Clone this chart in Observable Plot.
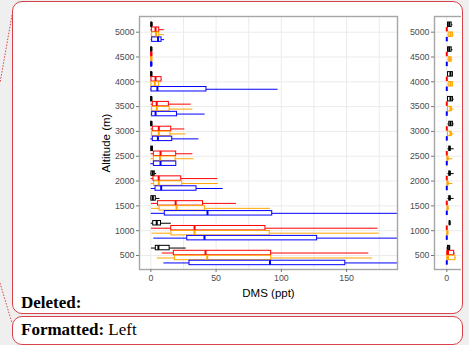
<!DOCTYPE html>
<html><head><meta charset="utf-8">
<script src="https://cdn.jsdelivr.net/npm/d3@7"></script>
<script src="https://cdn.jsdelivr.net/npm/@observablehq/plot@0.6"></script>
<style>
html,body{margin:0;padding:0;background:#efefef;}
#page{position:relative;width:469px;height:345px;overflow:hidden;background:#efefef;}
.balloon{position:absolute;left:12px;width:451px;border:1px solid #d8414a;border-radius:10px;background:#fff;box-sizing:border-box;}
#b1{top:1px;height:313px;}
#b2{top:316px;height:29px;}
.note{position:absolute;left:21px;font:17px/17px "Liberation Serif","Times New Roman",serif;color:#000;white-space:nowrap;}
#c1{position:absolute;left:0;top:0;}
#c2{position:absolute;left:394px;top:0;width:67px;height:300px;overflow:hidden;}
#c2 svg, #c1 svg{max-width:none !important;}
#deco{position:absolute;left:0;top:0;}
</style></head>
<body><div id="page">
<svg id="deco" width="20" height="345"><line x1="12" y1="15" x2="0" y2="83" stroke="#d8414a" stroke-dasharray="1.5,1.5"/><line x1="0" y1="283" x2="12" y2="323" stroke="#d8414a" stroke-dasharray="1.5,1.5"/></svg>
<div class="balloon" id="b1"></div>
<div class="balloon" id="b2"></div>
<div class="note" style="top:294px;"><b>Deleted:</b></div>
<div class="note" style="top:321px;"><b>Formatted:</b> Left</div>
<div id="c1"></div>
<div id="c2"></div>
</div>
<script>
// ---- data ----
const altitudes = [500, 1000, 1500, 2000, 2500, 3000, 3500, 4000, 4500, 5000];
const seriesNames = ["S1", "S2", "S3", "S4"];
const seriesColors = ["black", "red", "orange", "blue"];
const yTicks = [500, 1000, 1500, 2000, 2500, 3000, 3500, 4000, 4500, 5000];
const xTicks = [0, 50, 100, 150];
const xGrid = [0, 25, 50, 75, 100, 125, 150, 175];
const xTicks2 = [0];
const xGrid2 = [0, 2.5, 5, 7.5, 10];

// panel 1: [min, q1, median, q3, max] per altitude (500 -> 5000)
const s1Stats = [[0.5,3.8,5.8,14.4,27.1],[0.3,1.8,4.5,7.8,15.7],[0,0.4,1.5,3.8,7],[0,0.5,1.5,3,4.5],[0,0.3,0.8,1.6,1.8],[0,0.2,0.5,1,1.3],[0,0.2,0.5,0.9,1.2],[0,0.2,0.5,0.9,1.2],[0,0.2,0.5,0.8,1],[0,0.3,0.6,1,1.5]];
const s2Stats = [[8.7,17.6,41.9,92.2,167],[0.5,15.6,33.5,87.8,174],[0.5,5.5,19,40,65.6],[0.3,2,6,23.3,51.3],[0.3,2.3,7.4,19.4,32.2],[0.3,1.5,6.1,15.6,26],[0.3,1.5,4.5,13.8,30.9],[0.2,0.5,3.6,8.2,8.6],[0,0.2,0.5,0.8,1],[0.2,0.8,3.6,6.4,10.3]];
const s3Stats = [[4.9,18.4,43.2,92.2,170],[1,15.8,33.5,91.1,175],[0.5,6.7,19.7,41.4,91.6],[0.3,2.5,6.1,24,51.8],[0.3,2.3,7,19,33],[0.3,1,6.1,15,27],[0.3,1,4.5,14.4,32.2],[0.2,0.5,3,6.2,6.8],[0,0.2,0.5,0.8,1],[0.2,1,4,6.4,10.6]];
const s4Stats = [[10,29.6,91.3,149,260],[2.3,27.9,41.1,127.4,240],[0.3,10.7,43.4,93,230],[0.3,3.6,7.9,35,55.4],[0,2.3,7.4,19.5,19.5],[0,1.5,5.4,16.4,36.8],[0.3,1,3.6,20,41.6],[0,0.5,5,42.6,97.5],[0,0.2,0.5,0.8,1],[0.3,1,5.5,8.2,10.5]];

// panel 2 (second facet, mostly hidden)
const p2s1Stats = [[0,0.05,0.1,0.12,0.15],[0.1,0.12,0.12,0.13,0.14],[0.05,0.1,0.12,0.15,0.3],[0.05,0.1,0.12,0.15,0.3],[0.05,0.1,0.12,0.15,0.3],[0.05,0.1,0.15,0.25,0.3],[0.05,0.05,0.15,0.25,0.3],[0.05,0.05,0.15,0.25,0.25],[0.03,0.05,0.1,0.2,0.25],[0.03,0.05,0.1,0.2,0.25]];
const p2s2Stats = [[0,0.02,0.05,0.3,0.35],[0,0,0,0,0],[0,0,0,0,0],[0,0,0,0,0],[0,0,0,0,0],[0,0,0,0,0],[0,0,0,0,0],[0,0,0,0,0],[0,0,0,0,0],[0,0,0,0,0]];
const p2s3Stats = [[0,0.02,0.05,0.35,0.4],[0.02,0.02,0.03,0.03,0.03],[0.02,0.03,0.04,0.05,0.1],[0.02,0.03,0.04,0.05,0.25],[0.02,0.03,0.04,0.05,0.25],[0.05,0.05,0.15,0.2,0.3],[0.05,0.05,0.15,0.2,0.3],[0.05,0.08,0.15,0.25,0.25],[0.05,0.08,0.12,0.2,0.25],[0.05,0.08,0.15,0.25,0.3]];
const p2s4Stats = [[0,0,0,0,0],[0,0,0,0,0],[0,0,0,0,0],[0,0,0,0,0],[0,0,0,0,0],[0,0,0,0,0],[0,0,0,0,0],[0,0,0,0,0],[0,0,0,0,0],[0,0,0,0,0]];

// ---- build ----
const slot = 100, half = 45;
function rowsFrom(statsList) {
  const rows = [];
  statsList.forEach((stats, i) => {
    altitudes.forEach((a, j) => {
      const [min, q1, med, q3, max] = stats[j];
      rows.push({series: seriesNames[i], y: a + (1.5 - i) * slot, min, q1, med, q3, max});
    });
  });
  return rows;
}
const font = '"Liberation Sans", Arial, sans-serif';
function panel(rows, opts) {
  return Plot.plot({
    width: opts.width, height: 300,
    marginLeft: opts.marginLeft, marginRight: opts.marginRight, marginTop: 16, marginBottom: 31,
    style: {background: "transparent", fontFamily: font, overflow: "visible", maxWidth: "none", width: opts.width + "px", height: "300px"},
    x: {domain: opts.xDomain},
    y: {domain: [218, 5316]},
    color: {domain: seriesNames, range: seriesColors},
    marks: [
      Plot.gridX({ticks: opts.xGrid, stroke: "#ebebeb", strokeOpacity: 1}),
      Plot.gridY({ticks: yTicks, stroke: "#ebebeb", strokeOpacity: 1}),
      Plot.ruleY(rows, {y: "y", x1: "min", x2: "q1", stroke: "series", clip: true}),
      Plot.ruleY(rows, {y: "y", x1: "q3", x2: "max", stroke: "series", clip: true}),
      Plot.rect(rows, {x1: "q1", x2: "q3", y1: d => d.y - half, y2: d => d.y + half, fill: "white", stroke: "series", clip: true}),
      Plot.ruleX(rows, {x: "med", y1: d => d.y - half, y2: d => d.y + half, stroke: "series", strokeWidth: 2, clip: true}),
      Plot.frame({stroke: "#a6a6a6", strokeWidth: 1.4}),
      Plot.axisY({ticks: yTicks, tickSize: 3, tickPadding: 2, fontSize: 8.8, color: "#4d4d4d", stroke: "#777",
        label: opts.yLabel, labelArrow: "none", labelAnchor: "center", labelOffset: 38, tickFormat: d => String(d)}),
      Plot.axisX({ticks: opts.xTicks, tickSize: 3, tickPadding: 2, fontSize: 8.8, color: "#4d4d4d", stroke: "#777",
        label: opts.xLabel, labelArrow: "none", labelAnchor: "center", labelOffset: 27, tickFormat: d => String(d)})
    ]
  });
}
const p1 = panel(rowsFrom([s1Stats, s2Stats, s3Stats, s4Stats]),
  {width: 400, marginLeft: 139, marginRight: 3, xDomain: [-8.7, 189], xGrid, xTicks, yLabel: "Altitude (m)", xLabel: "DMS (ppt)"});
const p2 = panel(rowsFrom([p2s1Stats, p2s2Stats, p2s3Stats, p2s4Stats]),
  {width: 300, marginLeft: 40, marginRight: 2, xDomain: [-0.5, 10], xGrid: xGrid2, xTicks: xTicks2, yLabel: null, xLabel: null});
document.getElementById("c1").appendChild(p1);
document.getElementById("c2").appendChild(p2);
// axis label styling (strip any arrow, set size)
for (const svg of [p1, p2]) {
  svg.querySelectorAll("[aria-label='y-axis label'] text, [aria-label='x-axis label'] text").forEach(t => {
    t.setAttribute("font-size", "11.5"); t.setAttribute("fill", "#000");
    t.textContent = t.textContent.replace(/[↑↓←→]/g, "").trim();
  });
}
</script>
</body></html>
